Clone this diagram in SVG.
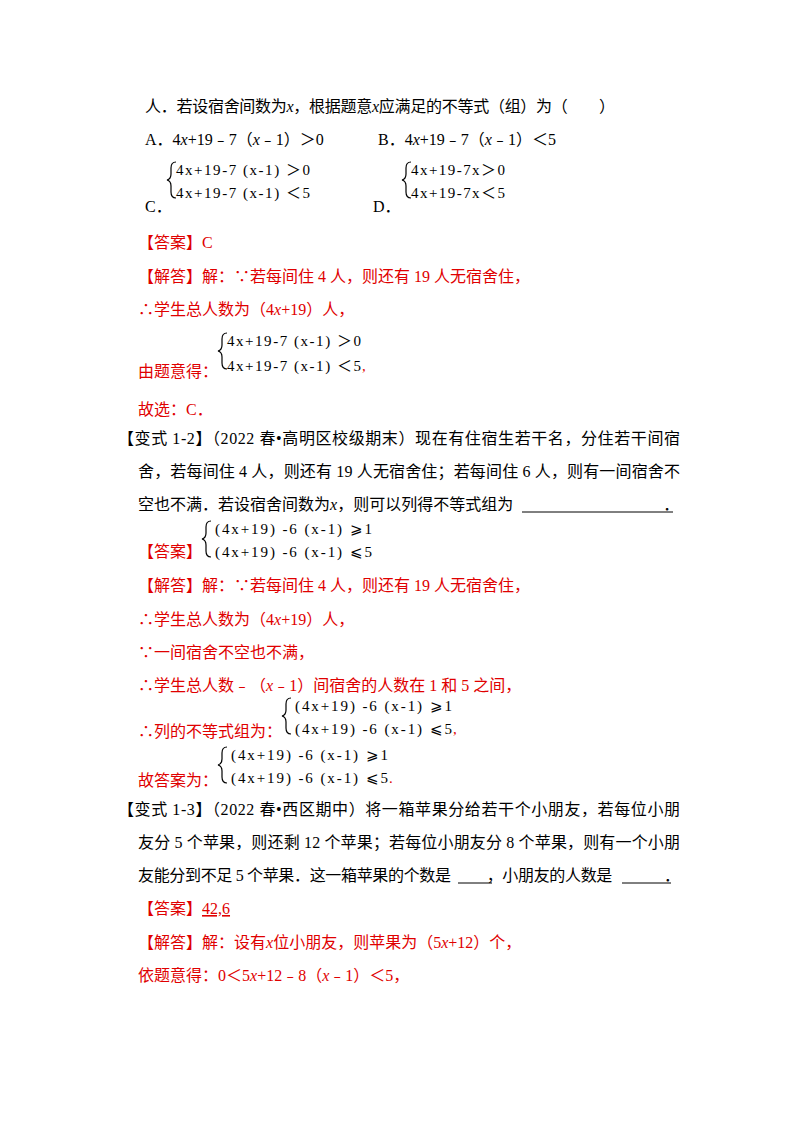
<svg xmlns="http://www.w3.org/2000/svg" width="800" height="1132" viewBox="0 0 800 1132">
<style>
text{font-family:"Liberation Serif","Noto Sans CJK SC",serif;font-size:16px;fill:#000}
.r{fill:#e00000}
.m{font-family:"Liberation Serif","Noto Sans CJK SC",serif;font-size:15px}
.b{fill:none;stroke:#000;stroke-width:1.2}
.i{font-style:italic}
</style>
<rect width="800" height="1132" fill="#fff"/>
<text x="145" y="112" textLength="470">人．若设宿舍间数为<tspan class="i">x</tspan>，根据题意<tspan class="i">x</tspan>应满足的不等式（组）为（　　）</text>
<text x="145" y="145">A．4<tspan class="i">x</tspan>+19﹣7（<tspan class="i">x</tspan>﹣1）＞0</text>
<text x="378" y="145">B．4<tspan class="i">x</tspan>+19﹣7（<tspan class="i">x</tspan>﹣1）＜5</text>
<path class="b" d="M176,162 q-5,0 -5,6 v6 q0,5 -4,6 q4,1 4,6 v6 q0,6 5,6"/>
<text class="m" x="176" y="175" textLength="134">4x+19-7 (x-1) ＞0</text>
<text class="m" x="176" y="198" textLength="134">4x+19-7 (x-1) ＜5</text>
<text x="145" y="212">C．</text>
<path class="b" d="M411,162 q-5,0 -5,6 v6 q0,5 -4,6 q4,1 4,6 v6 q0,6 5,6"/>
<text class="m" x="411" y="175" textLength="94">4x+19-7x＞0</text>
<text class="m" x="411" y="198" textLength="94">4x+19-7x＜5</text>
<text x="373" y="212">D．</text>
<text class="r" x="138" y="248">【答案】C</text>
<text class="r" x="138" y="282">【解答】解：∵若每间住 4 人，则还有 19 人无宿舍住，</text>
<text class="r" x="138" y="315">∴学生总人数为（4<tspan class="i">x</tspan>+19）人，</text>
<path class="b" d="M227,333 q-5,0 -5,6 v6 q0,5 -4,6 q4,1 4,6 v6 q0,6 5,6"/>
<text class="m" x="227" y="346" textLength="134">4x+19-7 (x-1) ＞0</text>
<text class="m" x="227" y="371" textLength="134">4x+19-7 (x-1) ＜5</text>
<text class="m r" x="362" y="371">,</text>
<text class="r" x="138" y="377">由题意得：</text>
<text class="r" x="138" y="415">故选：C．</text>
<text x="118" y="444" textLength="562">【变式 1-2】（2022 春•高明区校级期末）现在有住宿生若干名，分住若干间宿</text>
<text x="138" y="477" textLength="542">舍，若每间住 4 人，则还有 19 人无宿舍住；若每间住 6 人，则有一间宿舍不</text>
<text x="138" y="510">空也不满．若设宿舍间数为<tspan class="i">x</tspan>，则可以列得不等式组为<tspan dx="150">．</tspan></text>
<line x1="522" y1="512" x2="673" y2="512" stroke="#000" stroke-width="1"/>
<path class="b" d="M211,521 q-5,0 -5,6 v6 q0,5 -4,6 q4,1 4,6 v6 q0,6 5,6"/>
<text class="m" x="215" y="534" textLength="157">(4x+19) -6 (x-1) ⩾1</text>
<text class="m" x="215" y="557" textLength="157">(4x+19) -6 (x-1) ⩽5</text>
<text class="r" x="138" y="557">【答案】</text>
<text class="r" x="138" y="591">【解答】解：∵若每间住 4 人，则还有 19 人无宿舍住，</text>
<text class="r" x="138" y="625">∴学生总人数为（4<tspan class="i">x</tspan>+19）人，</text>
<text class="r" x="138" y="658">∵一间宿舍不空也不满，</text>
<text class="r" x="138" y="691">∴学生总人数﹣（<tspan class="i">x</tspan>﹣1）间宿舍的人数在 1 和 5 之间，</text>
<path class="b" d="M291,698 q-5,0 -5,6 v6 q0,5 -4,6 q4,1 4,6 v6 q0,6 5,6"/>
<text class="m" x="295" y="711" textLength="157">(4x+19) -6 (x-1) ⩾1</text>
<text class="m" x="295" y="734" textLength="157">(4x+19) -6 (x-1) ⩽5</text>
<text class="m r" x="453" y="734">,</text>
<text class="r" x="138" y="737">∴列的不等式组为：</text>
<path class="b" d="M227,747 q-5,0 -5,6 v6 q0,5 -4,6 q4,1 4,6 v6 q0,6 5,6"/>
<text class="m" x="231" y="760" textLength="157">(4x+19) -6 (x-1) ⩾1</text>
<text class="m" x="231" y="783" textLength="157">(4x+19) -6 (x-1) ⩽5</text>
<text class="m r" x="389" y="783">.</text>
<text class="r" x="138" y="786">故答案为：</text>
<text x="118" y="815" textLength="562">【变式 1-3】（2022 春•西区期中）将一箱苹果分给若干个小朋友，若每位小朋</text>
<text x="138" y="848" textLength="542">友分 5 个苹果，则还剩 12 个苹果；若每位小朋友分 8 个苹果，则有一个小朋</text>
<text x="138" y="881" textLength="542">友能分到不足 5 个苹果．这一箱苹果的个数是<tspan dx="36">，小朋友的人数是</tspan><tspan dx="52">．</tspan></text>
<line x1="458" y1="883" x2="492" y2="883" stroke="#000"/>
<line x1="622" y1="883" x2="671" y2="883" stroke="#000"/>
<text class="r" x="138" y="914">【答案】<tspan text-decoration="underline">42,6</tspan></text>
<text class="r" x="138" y="948">【解答】解：设有<tspan class="i">x</tspan>位小朋友，则苹果为（5<tspan class="i">x</tspan>+12）个，</text>
<text class="r" x="138" y="981">依题意得：0＜5<tspan class="i">x</tspan>+12﹣8（<tspan class="i">x</tspan>﹣1）＜5，</text>
</svg>
